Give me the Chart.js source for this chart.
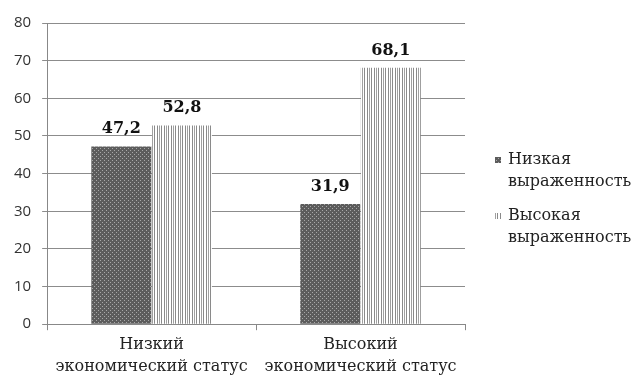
<!DOCTYPE html>
<html>
<head>
<meta charset="utf-8">
<script src="https://cdn.jsdelivr.net/npm/chart.js@4.4.0/dist/chart.umd.min.js"></script>
<style>
  html, body { margin: 0; padding: 0; background: #fff; }
  #wrap { width: 638px; height: 381px; position: relative; }
</style>
</head>
<body>
<div id="wrap"><canvas id="chartCanvas"></canvas></div>
<script>
// data
const categories = [['Низкий', 'экономический статус'], ['Высокий', 'экономический статус']];
const seriesNames = [['Низкая', 'выраженность'], ['Высокая', 'выраженность']];
const lowValues = [47.2, 31.9];
const highValues = [52.8, 68.1];
const yTicks = [0, 10, 20, 30, 40, 50, 60, 70, 80];

const SERIF = '"DejaVu Serif", "Liberation Serif", serif';
const SANS = '"Open Sans", "Liberation Sans", sans-serif';

// fill patterns : dark dotted and vertical stripes
function dotPattern() {
  let c = document.createElement('canvas');
  c.width = 4; c.height = 4;
  let g = c.getContext('2d');
  g.fillStyle = '#5c5c5c';
  g.fillRect(0, 0, 4, 4);
  g.fillStyle = '#a8a8a8';
  g.fillRect(0, 0, 1, 1);
  g.fillRect(2, 2, 1, 1);
  return g.createPattern(c, 'repeat');
}

function stripePattern() {
  let c = document.createElement('canvas');
  c.width = 7; c.height = 4;
  let g = c.getContext('2d');
  g.fillStyle = '#ffffff';
  g.fillRect(0, 0, 7, 4);
  g.fillStyle = '#8a8a8a';
  g.fillRect(0, 0, 1, 4);
  g.fillRect(3, 0, 1, 4);
  g.fillStyle = '#a0a0a0';
  g.fillRect(5, 0, 1, 4);
  return g.createPattern(c, 'repeat');
}

const fills = [dotPattern(), stripePattern()];

// value labels above each bar, with comma decimals
const valueLabels = {
  id: 'valueLabels',
  afterDatasetsDraw(chart) {
    const ctx = chart.ctx;
    ctx.save();
    ctx.font = 'bold 16px ' + SERIF;
    ctx.fillStyle = '#111';
    ctx.textAlign = 'center';
    ctx.textBaseline = 'alphabetic';
    chart.data.datasets.forEach((ds, i) => {
      chart.getDatasetMeta(i).data.forEach((bar, j) => {
        ctx.fillText(ds.data[j].toFixed(1).replace('.', ','), bar.x, bar.y - 13);
      });
    });
    ctx.restore();
  }
};

// legend on the right, two-line labels
const sideLegend = {
  id: 'sideLegend',
  afterDraw(chart) {
    const ctx = chart.ctx;
    const x0 = chart.chartArea.right + 30;
    const tops = [160, 216];
    ctx.save();
    ctx.font = '16px ' + SERIF;
    ctx.textBaseline = 'middle';
    chart.data.datasets.forEach((ds, i) => {
      let y = tops[i];
      ctx.fillStyle = fills[i];
      ctx.fillRect(x0, y - 3, 6, 6);
      ctx.fillStyle = '#222';
      ctx.fillText(seriesNames[i][0], x0 + 13, y);
      ctx.fillText(seriesNames[i][1], x0 + 13, y + 22);
    });
    ctx.restore();
  }
};

new Chart(document.getElementById('chartCanvas').getContext('2d'), {
  type: 'bar',
  data: {
    labels: categories,
    datasets: [
      { label: 'Низкая выраженность', data: lowValues, backgroundColor: fills[0],
        categoryPercentage: 0.58, barPercentage: 0.99 },
      { label: 'Высокая выраженность', data: highValues, backgroundColor: fills[1],
        categoryPercentage: 0.58, barPercentage: 0.99 }
    ]
  },
  options: {
    responsive: true,
    maintainAspectRatio: false,
    animation: false,
    layout: { padding: { left: 3, right: 173, top: 23, bottom: 0 } },
    plugins: {
      legend: { display: false },
      tooltip: { enabled: false }
    },
    scales: {
      x: {
        grid: { display: true, drawOnChartArea: false, color: '#888', tickLength: 6, offset: true },
        border: { color: '#888' },
        ticks: { color: '#222', font: { family: SERIF, size: 16, lineHeight: 1.4 }, padding: 3, maxRotation: 0 }
      },
      y: {
        min: 0, max: 80,
        afterBuildTicks: (axis) => { axis.ticks = yTicks.map(v => ({ value: v })); },
        grid: { color: '#8c8c8c', tickLength: 5 },
        border: { color: '#888' },
        ticks: { color: '#333', font: { family: SANS, size: 15 }, padding: 11 }
      }
    }
  },
  plugins: [valueLabels, sideLegend]
});
</script>
</body>
</html>
